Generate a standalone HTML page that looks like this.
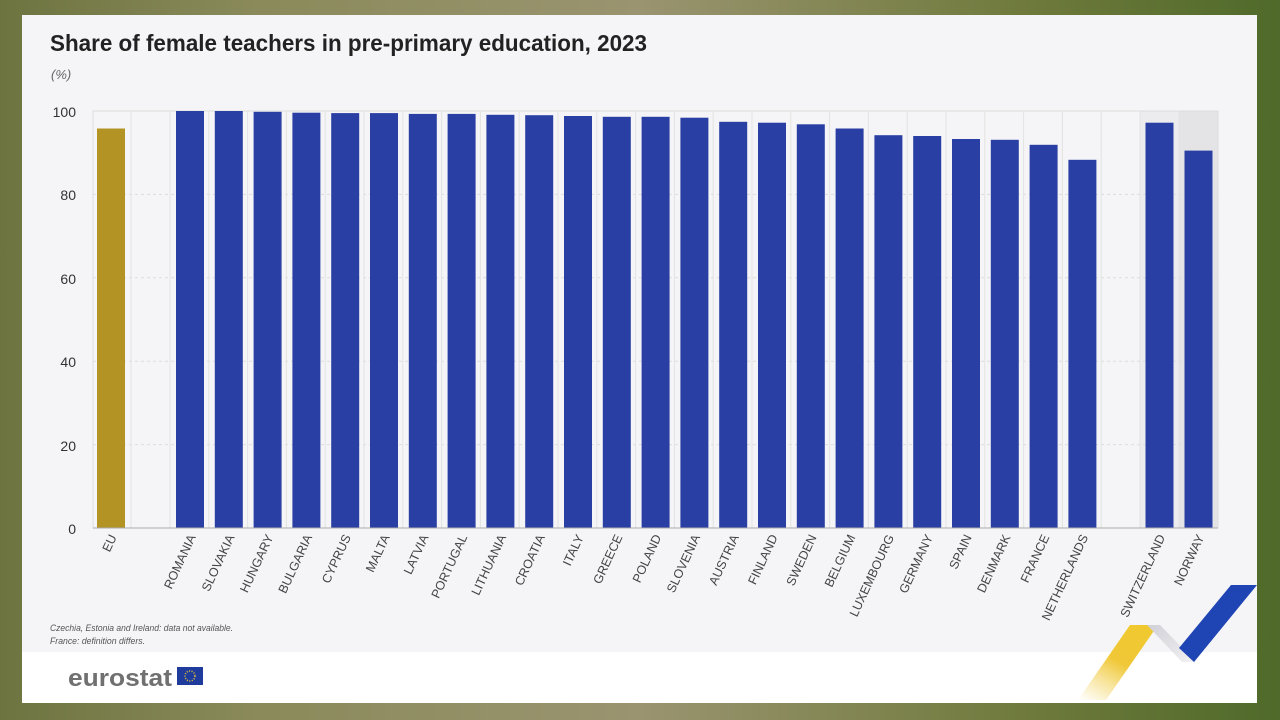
<!DOCTYPE html>
<html><head><meta charset="utf-8"><style>
html,body{margin:0;padding:0;width:1280px;height:720px;overflow:hidden;}
body{background:linear-gradient(90deg,#6d7440 0%,#8a8a5a 20%,#9a9470 50%,#6f7a3c 80%,#4f6a2a 100%);}
svg{position:absolute;left:0;top:0;}
text{font-family:"Liberation Sans Narrow","Liberation Sans",sans-serif;}
</style></head><body>
<svg width="1280" height="720" viewBox="0 0 1280 720">
<defs>
<linearGradient id="yg" x1="0" y1="1" x2="0.6" y2="0"><stop offset="0" stop-color="#f3d560" stop-opacity="0"/><stop offset="0.6" stop-color="#f0c838"/><stop offset="1" stop-color="#f0c830"/></linearGradient>
<linearGradient id="gg" x1="0" y1="0" x2="1" y2="1"><stop offset="0" stop-color="#cfcfd6"/><stop offset="1" stop-color="#f2f2f4"/></linearGradient>
</defs>
<rect x="22" y="15" width="1235" height="688" fill="#f5f5f7"/>
<rect x="22" y="652" width="1235" height="51" fill="#ffffff"/>
<text x="50" y="51" font-size="23" fill="#222" font-weight="bold" textLength="597" lengthAdjust="spacingAndGlyphs">Share of female teachers in pre-primary education, 2023</text>
<text x="51" y="79" font-size="13" fill="#666" font-style="italic">(%)</text>
<rect x="1140" y="111" width="78" height="417" fill="#ececee"/>
<rect x="1179" y="111" width="39" height="417" fill="#e4e4e6"/>
<rect x="93" y="111" width="1125" height="417" fill="none" stroke="#ddd" stroke-width="1"/>
<g stroke="#ddd" stroke-width="1" stroke-dasharray="3,3">
<line x1="93" x2="1218" y1="194.4" y2="194.4"/><line x1="93" x2="1218" y1="277.8" y2="277.8"/><line x1="93" x2="1218" y1="361.2" y2="361.2"/><line x1="93" x2="1218" y1="444.6" y2="444.6"/>
</g>
<g stroke="#e2e2e2" stroke-width="1">
<line x1="131" x2="131" y1="111" y2="528"/><line x1="170" x2="170" y1="111" y2="528"/><line x1="208.8" x2="208.8" y1="111" y2="528"/><line x1="247.6" x2="247.6" y1="111" y2="528"/><line x1="286.4" x2="286.4" y1="111" y2="528"/><line x1="325.2" x2="325.2" y1="111" y2="528"/><line x1="364" x2="364" y1="111" y2="528"/><line x1="402.8" x2="402.8" y1="111" y2="528"/><line x1="441.6" x2="441.6" y1="111" y2="528"/><line x1="480.4" x2="480.4" y1="111" y2="528"/><line x1="519.2" x2="519.2" y1="111" y2="528"/><line x1="558" x2="558" y1="111" y2="528"/><line x1="596.8" x2="596.8" y1="111" y2="528"/><line x1="635.6" x2="635.6" y1="111" y2="528"/><line x1="674.4" x2="674.4" y1="111" y2="528"/><line x1="713.2" x2="713.2" y1="111" y2="528"/><line x1="752" x2="752" y1="111" y2="528"/><line x1="790.8" x2="790.8" y1="111" y2="528"/><line x1="829.6" x2="829.6" y1="111" y2="528"/><line x1="868.4" x2="868.4" y1="111" y2="528"/><line x1="907.2" x2="907.2" y1="111" y2="528"/><line x1="946" x2="946" y1="111" y2="528"/><line x1="984.8" x2="984.8" y1="111" y2="528"/><line x1="1023.6" x2="1023.6" y1="111" y2="528"/><line x1="1062.4" x2="1062.4" y1="111" y2="528"/><line x1="1101.2" x2="1101.2" y1="111" y2="528"/><line x1="1140" x2="1140" y1="111" y2="528"/><line x1="1179" x2="1179" y1="111" y2="528"/>
</g>
<g font-size="14" fill="#333" text-anchor="end">
<text x="76" y="117">100</text><text x="76" y="200">80</text><text x="76" y="284">60</text><text x="76" y="367">40</text><text x="76" y="451">20</text><text x="76" y="534">0</text>
</g>
<rect x="97" y="128.5" width="28" height="399.5" fill="#b39324"/>
<g fill="#2a3fa4">
<rect x="176" y="111" width="28" height="417"/>
<rect x="214.8" y="111" width="28" height="417"/>
<rect x="253.6" y="111.8" width="28" height="416.2"/>
<rect x="292.4" y="112.7" width="28" height="415.3"/>
<rect x="331.2" y="113.1" width="28" height="414.9"/>
<rect x="370" y="113.1" width="28" height="414.9"/>
<rect x="408.8" y="113.9" width="28" height="414.1"/>
<rect x="447.6" y="113.9" width="28" height="414.1"/>
<rect x="486.4" y="114.8" width="28" height="413.2"/>
<rect x="525.2" y="115.2" width="28" height="412.8"/>
<rect x="564" y="116" width="28" height="412"/>
<rect x="602.8" y="116.8" width="28" height="411.2"/>
<rect x="641.6" y="116.8" width="28" height="411.2"/>
<rect x="680.4" y="117.7" width="28" height="410.3"/>
<rect x="719.2" y="121.8" width="28" height="406.2"/>
<rect x="758" y="122.7" width="28" height="405.3"/>
<rect x="796.8" y="124.3" width="28" height="403.7"/>
<rect x="835.6" y="128.5" width="28" height="399.5"/>
<rect x="874.4" y="135.2" width="28" height="392.8"/>
<rect x="913.2" y="136" width="28" height="392"/>
<rect x="952" y="139" width="28" height="389"/>
<rect x="990.8" y="139.8" width="28" height="388.2"/>
<rect x="1029.6" y="144.8" width="28" height="383.2"/>
<rect x="1068.4" y="159.8" width="28" height="368.2"/>
<rect x="1145.5" y="122.7" width="28" height="405.3"/>
<rect x="1184.5" y="150.6" width="28" height="377.4"/>
</g>
<line x1="93" x2="1218" y1="528" y2="528" stroke="#aaa"/>
<g font-size="12.5" fill="#444" text-anchor="end">
<text transform="translate(117,537) rotate(-65)">EU</text>
<text transform="translate(196,537) rotate(-65)">ROMANIA</text>
<text transform="translate(234.8,537) rotate(-65)">SLOVAKIA</text>
<text transform="translate(273.6,537) rotate(-65)">HUNGARY</text>
<text transform="translate(312.4,537) rotate(-65)">BULGARIA</text>
<text transform="translate(351.2,537) rotate(-65)">CYPRUS</text>
<text transform="translate(390,537) rotate(-65)">MALTA</text>
<text transform="translate(428.8,537) rotate(-65)">LATVIA</text>
<text transform="translate(467.6,537) rotate(-65)">PORTUGAL</text>
<text transform="translate(506.4,537) rotate(-65)">LITHUANIA</text>
<text transform="translate(545.2,537) rotate(-65)">CROATIA</text>
<text transform="translate(584,537) rotate(-65)">ITALY</text>
<text transform="translate(622.8,537) rotate(-65)">GREECE</text>
<text transform="translate(661.6,537) rotate(-65)">POLAND</text>
<text transform="translate(700.4,537) rotate(-65)">SLOVENIA</text>
<text transform="translate(739.2,537) rotate(-65)">AUSTRIA</text>
<text transform="translate(778,537) rotate(-65)">FINLAND</text>
<text transform="translate(816.8,537) rotate(-65)">SWEDEN</text>
<text transform="translate(855.6,537) rotate(-65)">BELGIUM</text>
<text transform="translate(894.4,537) rotate(-65)">LUXEMBOURG</text>
<text transform="translate(933.2,537) rotate(-65)">GERMANY</text>
<text transform="translate(972,537) rotate(-65)">SPAIN</text>
<text transform="translate(1010.8,537) rotate(-65)">DENMARK</text>
<text transform="translate(1049.6,537) rotate(-65)">FRANCE</text>
<text transform="translate(1088.4,537) rotate(-65)">NETHERLANDS</text>
<text transform="translate(1165.5,537) rotate(-65)">SWITZERLAND</text>
<text transform="translate(1204.5,537) rotate(-65)">NORWAY</text>
</g>
<g font-size="9" fill="#555" font-style="italic">
<text x="50" y="631" textLength="183" lengthAdjust="spacingAndGlyphs">Czechia, Estonia and Ireland: data not available.</text>
<text x="50" y="644" textLength="95" lengthAdjust="spacingAndGlyphs">France: definition differs.</text>
</g>
<text x="68" y="686" font-size="24" fill="#707070" font-weight="bold" textLength="104" lengthAdjust="spacingAndGlyphs" style="font-family:'Liberation Sans',sans-serif">eurostat</text>
<rect x="177" y="667" width="26" height="18" fill="#1f3c9c"/>
<circle cx="190" cy="676" r="5" fill="none" stroke="#e8c830" stroke-width="1.5" stroke-dasharray="1,1.5"/>
<polygon points="1078,700 1130,625 1158,625 1106,700" fill="url(#yg)"/>
<polygon points="1147,625 1160,625 1196,662 1182,662" fill="url(#gg)"/>
<polygon points="1179,648 1231,585 1257,585 1194,662" fill="#1f45b5"/>
</svg>
</body></html>
